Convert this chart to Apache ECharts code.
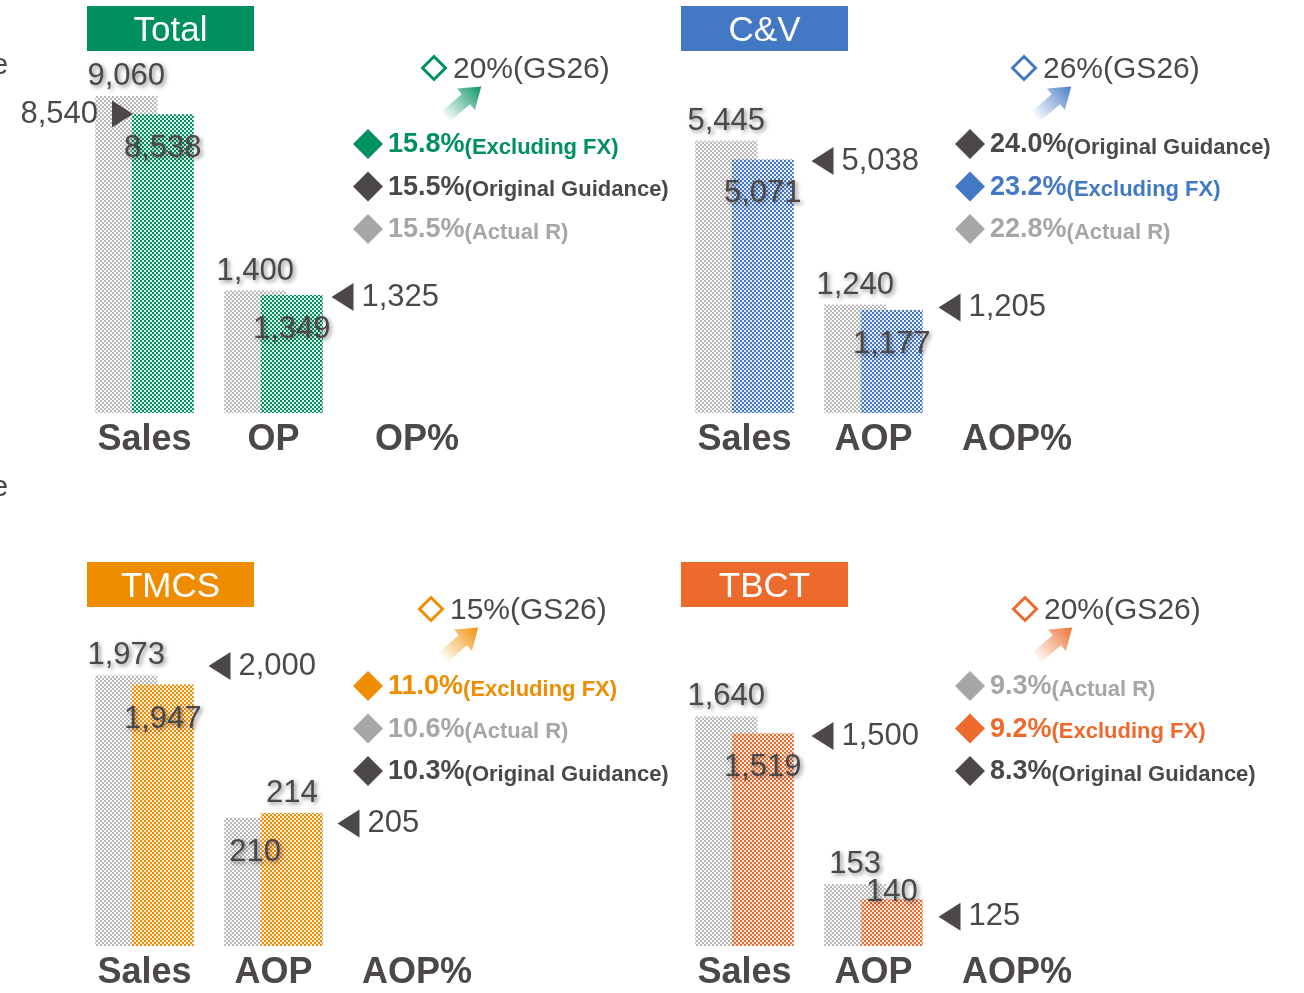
<!DOCTYPE html>
<html>
<head>
<meta charset="utf-8">
<title>Sales / Profit</title>
<script src="https://cdn.jsdelivr.net/npm/echarts@6/dist/echarts.min.js"></script>
<style>
html, body { margin: 0; padding: 0; background: #fff; }
#main { width: 1304px; height: 993px; }
</style>
</head>
<body>
<div id="main"></div>
<script>
// ---- data ----
var panels = ['Total', 'C&V', 'TMCS', 'TBCT'];
var groupNames = [['Sales', 'OP', 'OP%'], ['Sales', 'AOP', 'AOP%'], ['Sales', 'AOP', 'AOP%'], ['Sales', 'AOP', 'AOP%']];
var salesPrev = [9060, 5445, 1973, 1640];
var salesAct = [8538, 5071, 1947, 1519];
var salesTarget = [8540, 5038, 2000, 1500];
var profitPrev = [1400, 1240, 210, 153];
var profitAct = [1349, 1177, 214, 140];
var profitTarget = [1325, 1205, 205, 125];
var gs26 = [20, 26, 15, 20];
var rateValues = [[15.8, 15.5, 15.5], [24.0, 23.2, 22.8], [11.0, 10.6, 10.3], [9.3, 9.2, 8.3]];
var rateNotes = [
    ['Excluding FX', 'Original Guidance', 'Actual R'],
    ['Original Guidance', 'Excluding FX', 'Actual R'],
    ['Excluding FX', 'Actual R', 'Original Guidance'],
    ['Actual R', 'Excluding FX', 'Original Guidance']
];
// axis ranges [min, max] for each bar group
var salesAxis = [[0, 10000], [0, 7000], [1200, 2200], [0, 2500]];
var profitAxis = [[0, 4000], [0, 4000], [100, 400], [100, 400]];

// ---- styles / layout ----
var FONT = '"Liberation Sans", Arial, sans-serif';
var dark = '#4d4848';
var light = '#a6a6a6';
var panelColors = ['#00905e', '#4378c4', '#f08c00', '#ec6a2c'];
var panelX = [0, 600, 0, 600];
var barTop = [63, 63, 596, 596];
var titleXY = [[87, 6], [681, 6], [87, 562], [681, 562]];
var gsXY = [[434, 68], [1024, 68], [431, 609], [1025, 609]];
var rowX = [368, 970, 368, 970];
var rowY = [144, 144, 686, 686];
var targetDx = [[-22, 69], [78, 76], [75, 75], [78, 76]];

function checker(color, bg, cell) {
    var c = document.createElement('canvas');
    c.width = c.height = cell * 2;
    var ctx = c.getContext('2d');
    ctx.fillStyle = bg;
    ctx.fillRect(0, 0, cell * 2, cell * 2);
    ctx.fillStyle = color;
    ctx.fillRect(0, 0, cell, cell);
    ctx.fillRect(cell, cell, cell, cell);
    return { image: c, repeat: 'repeat' };
}
function rgba(hex, a) {
    var n = parseInt(hex.slice(1), 16);
    return 'rgba(' + (n >> 16) + ',' + ((n >> 8) & 255) + ',' + (n & 255) + ',' + a + ')';
}
function fmt(v) { return v.toLocaleString('en-US'); }

var grayPattern = checker('#b8b8b8', '#fafafa', 2);

var grids = [], xAxes = [], yAxes = [], series = [], graphics = [];

function addGrid(cx, top, cat, range) {
    var idx = grids.length;
    grids.push({ left: cx - 60, top: top, width: 120, height: 350 });
    xAxes.push({
        gridIndex: idx, type: 'category', data: [cat],
        axisLine: { show: false }, axisTick: { show: false }, splitLine: { show: false },
        axisLabel: { fontSize: 36, fontWeight: 'bold', color: dark, margin: 9, fontFamily: FONT }
    });
    yAxes.push({ gridIndex: idx, type: 'value', min: range[0], max: range[1], show: false, splitLine: { show: false } });
    return idx;
}

function barLabel(pos) {
    return {
        show: true, position: pos.position, distance: pos.distance,
        formatter: function (p) { return fmt(p.value); },
        fontSize: 31, lineHeight: 31, color: dark, fontFamily: FONT,
        textShadowColor: 'rgba(0,0,0,0.45)', textShadowBlur: 4, textShadowOffsetX: 2, textShadowOffsetY: 2
    };
}

function addGroup(p, cx, cat, range, prev, act, target, dx) {
    var gi = addGrid(cx, barTop[p], cat, range);
    var prevTaller = prev >= act;
    var span = range[1] - range[0];
    function lab(taller, v) {
        if (taller) return { position: 'top', distance: 4 };
        if ((v - range[0]) / span < 0.2) return { position: 'top', distance: -9 };
        return { position: 'insideTop', distance: 19 };
    }
    series.push({
        type: 'bar', xAxisIndex: gi, yAxisIndex: gi, data: [prev],
        barWidth: 62, barGap: '-41%',
        itemStyle: { color: grayPattern },
        label: barLabel(lab(prevTaller, prev)), z: 2
    });
    series.push({
        type: 'bar', xAxisIndex: gi, yAxisIndex: gi, data: [act],
        barWidth: 62, barGap: '-41%',
        itemStyle: { color: checker(panelColors[p], rgba(panelColors[p], 0.12), 2) },
        label: barLabel(lab(!prevTaller, act)), z: 2
    });
    var right = dx < 0;
    series.push({
        type: 'scatter', xAxisIndex: gi, yAxisIndex: gi, clip: false,
        data: [[cat, target]],
        symbol: right ? 'path://M0,0 L10,5 L0,10 Z' : 'path://M10,0 L0,5 L10,10 Z',
        symbolSize: right ? [21, 27] : [22, 28],
        symbolOffset: [dx, 0],
        itemStyle: { color: dark, opacity: 1 },
        label: {
            show: true, position: right ? 'left' : 'right', distance: right ? 14 : 8,
            formatter: function (q) { return fmt(q.value[1]); },
            fontSize: 31, color: dark, fontFamily: FONT
        },
        z: 4
    });
}

function diamondPts(cx, cy, r) {
    return [[cx, cy - r], [cx + r, cy], [cx, cy + r], [cx - r, cy]];
}

panels.forEach(function (name, p) {
    var ox = panelX[p];
    addGroup(p, 144.5 + ox, groupNames[p][0], salesAxis[p], salesPrev[p], salesAct[p], salesTarget[p], targetDx[p][0]);
    addGroup(p, 273.5 + ox, groupNames[p][1], profitAxis[p], profitPrev[p], profitAct[p], profitTarget[p], targetDx[p][1]);
    addGrid(417 + ox, barTop[p], groupNames[p][2], [0, 1]);

    var col = panelColors[p];
    // title box
    graphics.push({
        type: 'rect', shape: { x: titleXY[p][0], y: titleXY[p][1], width: 167, height: 45 },
        style: { fill: col }
    });
    graphics.push({
        type: 'text', x: titleXY[p][0] + 83.5, y: titleXY[p][1] + 25,
        style: { text: name, fill: '#fff', font: '35px ' + FONT, align: 'center', verticalAlign: 'middle' }
    });
    // GS26 target
    var gx = gsXY[p][0], gy = gsXY[p][1];
    graphics.push({
        type: 'polygon', shape: { points: diamondPts(gx, gy, 11.5) },
        style: { fill: 'none', stroke: col, lineWidth: 3 }
    });
    graphics.push({
        type: 'text', x: gx + 19, y: gy + 2,
        style: { text: gs26[p] + '%(GS26)', fill: dark, font: '30px ' + FONT, verticalAlign: 'middle' }
    });
    graphics.push({
        type: 'polygon', x: gx + 12, y: gy + 48, rotation: 40 * Math.PI / 180,
        shape: { points: [[0, -6.5], [26, -6.5], [26, -14], [46, 0], [26, 14], [26, 6.5], [0, 6.5]] },
        style: {
            fill: {
                type: 'linear', x: 0, y: 0, x2: 1, y2: 0,
                colorStops: [{ offset: 0, color: rgba(col, 0.05) }, { offset: 1, color: rgba(col, 0.95) }]
            }
        }
    });
    // rate rows
    rateValues[p].forEach(function (v, i) {
        var note = rateNotes[p][i];
        var c = note === 'Excluding FX' ? col : (note === 'Original Guidance' ? dark : light);
        var y = rowY[p] + i * 42.5;
        graphics.push({
            type: 'polygon', shape: { points: diamondPts(rowX[p], y, 15) },
            style: { fill: c }
        });
        graphics.push({
            type: 'text', x: rowX[p] + 20, y: y + 1,
            style: {
                text: '{v|' + v.toFixed(1) + '%}{n|(' + note + ')}',
                verticalAlign: 'middle',
                rich: {
                    v: { fontSize: 27, fontWeight: 'bold', fill: c, fontFamily: FONT, verticalAlign: 'bottom' },
                    n: { fontSize: 22, fontWeight: 'bold', fill: c, fontFamily: FONT, verticalAlign: 'bottom' }
                }
            }
        });
    });
});

// cut-off text at the left edge of the slide
graphics.push({ type: 'text', x: -8.5, y: 66, style: { text: 'e', fill: dark, font: '30px ' + FONT, verticalAlign: 'middle' } });
graphics.push({ type: 'text', x: -8.5, y: 488, style: { text: 'e', fill: dark, font: '30px ' + FONT, verticalAlign: 'middle' } });

var chart = echarts.init(document.getElementById('main'));
chart.setOption({
    animation: false,
    backgroundColor: '#fff',
    textStyle: { fontFamily: FONT },
    grid: grids,
    xAxis: xAxes,
    yAxis: yAxes,
    series: series,
    graphic: graphics
});
</script>
</body>
</html>
